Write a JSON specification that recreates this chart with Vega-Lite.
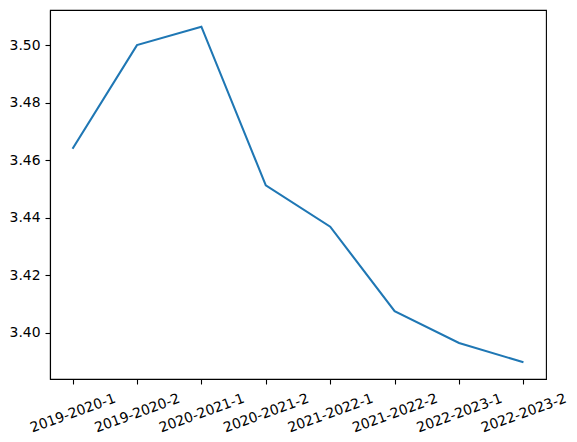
{
  "$schema": "https://vega.github.io/schema/vega-lite/v6.json",
  "autosize": "none",
  "padding": {"left": 50, "top": 10, "right": 31, "bottom": 62},
  "width": 496,
  "height": 369,
  "background": "white",
  "config": {
    "view": {"stroke": "black", "strokeWidth": 1.1},
    "axis": {
      "grid": false,
      "domainColor": "black",
      "domainWidth": 1.1,
      "tickColor": "black",
      "tickWidth": 1.1,
      "tickSize": 5,
      "labelFont": "DejaVu Sans",
      "labelFontSize": 13.9,
      "labelColor": "black",
      "title": null
    }
  },
  "data": {
    "values": [
      {"term": "2019-2020-1", "value": 3.4640},
      {"term": "2019-2020-2", "value": 3.5000},
      {"term": "2020-2021-1", "value": 3.5064},
      {"term": "2020-2021-2", "value": 3.4513},
      {"term": "2021-2022-1", "value": 3.4369},
      {"term": "2021-2022-2", "value": 3.4076},
      {"term": "2022-2023-1", "value": 3.3965},
      {"term": "2022-2023-2", "value": 3.3898}
    ]
  },
  "mark": {"type": "line", "color": "#1f77b4", "strokeWidth": 2.1},
  "encoding": {
    "x": {
      "field": "term",
      "type": "ordinal",
      "sort": null,
      "scale": {"type": "point", "padding": 0.35},
      "axis": {"labelAngle": -20, "labelAlign": "center", "labelBaseline": "middle", "labelPadding": 29}
    },
    "y": {
      "field": "value",
      "type": "quantitative",
      "scale": {"domain": [3.384, 3.5122], "zero": false, "nice": false},
      "axis": {"values": [3.40, 3.42, 3.44, 3.46, 3.48, 3.50], "format": ".2f", "labelPadding": 5}
    }
  }
}
